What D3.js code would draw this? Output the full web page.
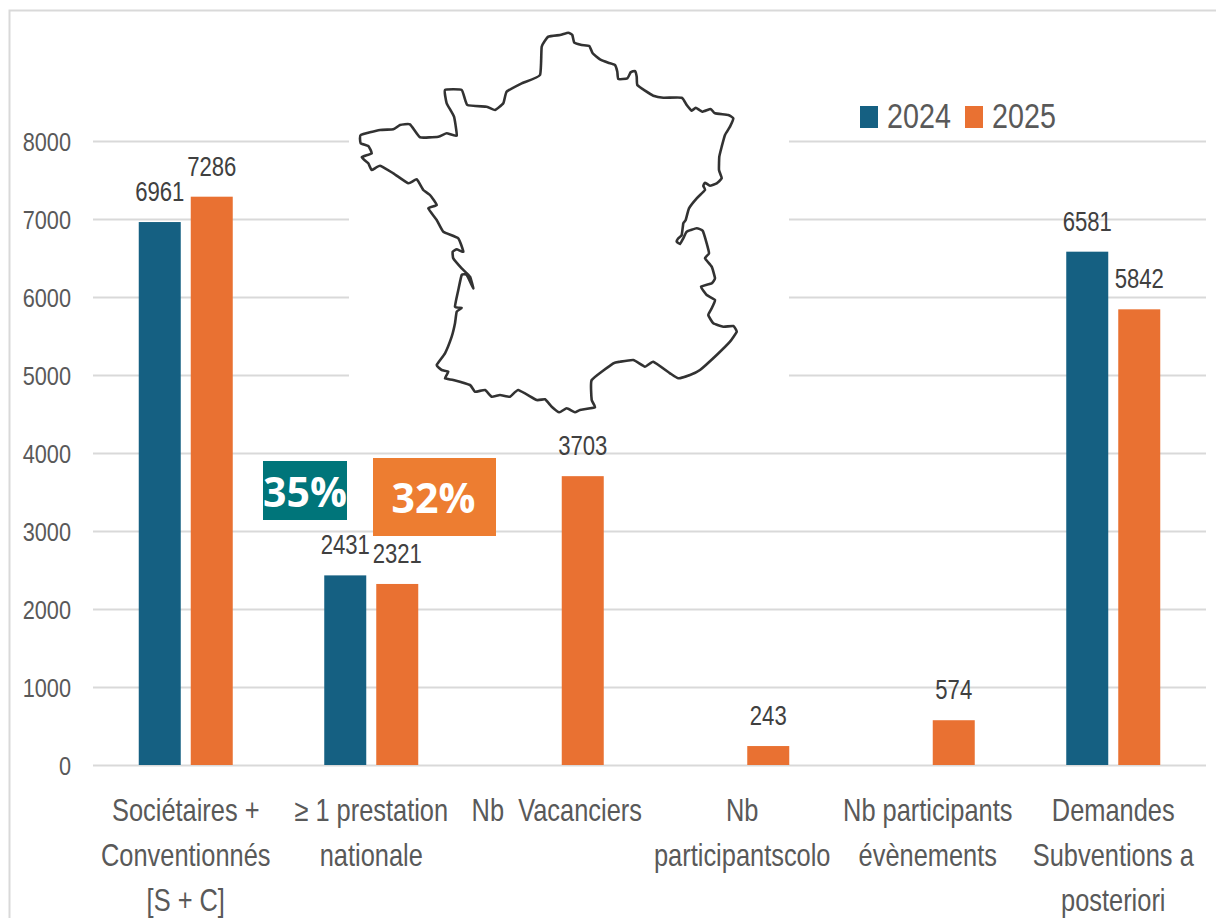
<!DOCTYPE html>
<html>
<head>
<meta charset="utf-8">
<script src="https://cdn.jsdelivr.net/npm/d3@7"></script>
<style>
  html, body { margin: 0; padding: 0; background: #fff; overflow: hidden; }
  text { font-family: "Liberation Sans", sans-serif; white-space: pre; }
</style>
</head>
<body>
<svg width="1216" height="918"></svg>
<script>
var years = ['2024', '2025'];
var categories = [
  ['Sociétaires +', 'Conventionnés', '[S + C]'],
  ['≥ 1 prestation', 'nationale'],
  ['Nb  Vacanciers'],
  ['Nb', 'participantscolo'],
  ['Nb participants', 'évènements'],
  ['Demandes', 'Subventions a', 'posteriori']
];
var values2024 = [6961, 2431, null, null, null, 6581];
var values2025 = [7286, 2321, 3703, 243, 574, 5842];
var yTicks = [0, 1000, 2000, 3000, 4000, 5000, 6000, 7000, 8000];
var shareLabels = ['35%', '32%'];

// outline of France, one unit = one pixel of the trace
var franceOutline = [
  [568.3,32.7],[572.3,35],[574.3,42.7],[581.7,45],[589.3,46],[592.7,53.3],[600,59.3],[608.3,62.7],[615,65],
  [617.3,71.7],[618.3,79],[627.3,78.3],[630.7,72.3],[635,71],[636.7,76.7],[637.3,85],[645,90.7],[653.3,95.7],
  [663.3,97.7],[681.7,97.7],[686.7,105],[691.7,110.7],[695.7,107.7],[702.3,111.7],[710.7,109],[715,113.3],
  [728.3,115],[733.3,118.3],[730,126.7],[725,135],[721.7,146.7],[719.3,156.7],[719,170],[721.7,178.3],
  [716.7,183.3],[710,185.7],[705,182.7],[703.3,186],[705,190],[696.7,198.3],[689,208.3],[685.7,220],
  [683.3,223.3],[681.7,235],[678.3,238.3],[676.7,241.7],[680,244],[683.3,238.3],[686.7,231.7],[696.7,228.3],
  [702.7,230.7],[706.7,243.3],[709,253.3],[705,258.3],[711.7,266.7],[715,278.3],[711.7,283.3],[701,286.7],
  [706.7,295],[715,300],[711.7,308.3],[708.3,315],[713.3,323.3],[723.3,326.7],[733.3,326],[736.7,331.7],
  [730,341.7],[716.7,355],[700,370],[690,375],[678.3,378.3],[670,373.3],[653.3,361.7],[645,366.7],[633.3,360],
  [620,361.7],[613.3,363.3],[591.7,380],[591.7,400],[595,407.3],[580,410],[575,412.3],[566.7,408.3],[559.3,412.3],
  [551.7,406.7],[545,399.3],[536.7,400],[518.3,390],[510,396.7],[500,395],[491.7,396.7],[485,390],[475,391.7],
  [470,385],[453.3,380],[445,378.3],[448.3,371.7],[441.7,370],[436.7,365],[445,353.3],[451.7,336.7],[455,323.3],
  [456.7,311.7],[461.7,308],[455,306.7],[458.3,290],[461.7,275],[466.7,275],[473.3,288.3],[470,276.7],[461.7,268.3],
  [453.3,258.3],[452.7,251.7],[456.7,249.3],[463.3,251.7],[458.3,238.3],[443.3,231.7],[436.7,220],[428.3,208.3],
  [436.7,205],[430,195],[423.3,190],[416.7,179.3],[408.3,183.3],[393.3,173.3],[380,165.7],[371.7,170],[368.3,163.3],
  [361.7,157.3],[371.7,153.3],[368.3,146],[360.7,143.3],[360.7,135],[380,130],[393.3,129.3],[400,125],[410,124.3],
  [420,137.3],[438.3,136.7],[446.7,133.3],[456.7,135.7],[454,116.7],[446.7,103.3],[445,90],[461.7,90],[467.3,105],
  [486.7,106.7],[495,110],[503.3,103.3],[506.7,91.7],[521.7,83.3],[540,75],[541.7,46.7],[548.3,36.7],[560,35]
];

var svg = d3.select('svg');
var colors = { '2024': '#156082', '2025': '#E97132' };
var gridColor = '#d9d9d9';
var left = 93, right = 1206, base = 765, top8000 = 141;
var squeeze = 0.82; // no narrow font installed, so the plain one gets squeezed sideways

var x = d3.scaleBand().domain(d3.range(categories.length)).range([left, right]);
var xSub = d3.scaleBand().domain(years)
  .range([x.bandwidth() / 2 - 47, x.bandwidth() / 2 + 47])
  .paddingInner(10 / 52);
var y = d3.scaleLinear().domain([0, 8000]).range([base, top8000]);
var mapX = d3.scaleLinear().domain([360, 737]).range([360, 737]);
var mapY = d3.scaleLinear().domain([33, 412]).range([33, 412]);

function narrow(px, py) {
  return 'translate(' + px + ',' + py + ') scale(' + squeeze + ',1)';
}

// frame, it runs off the picture on the right and at the bottom
svg.append('path')
  .attr('d', 'M9.5,918V10.5H1216')
  .attr('fill', 'none')
  .attr('stroke', gridColor)
  .attr('stroke-width', 2);

// Y axis with the gridlines
var yAxis = svg.append('g')
  .attr('transform', 'translate(' + left + ',0)')
  .call(d3.axisLeft(y).tickValues(yTicks).tickFormat(d3.format('d')).tickSize(-(right - left)));
yAxis.select('.domain').remove();
yAxis.selectAll('line').attr('stroke', gridColor).attr('stroke-width', 2);
yAxis.selectAll('text')
  .attr('x', 0)
  .attr('y', 0)
  .attr('dy', '0.36em')
  .attr('transform', narrow(-22, 0))
  .attr('fill', '#595959')
  .style('font-size', '26.5px');

// the map sits on a white block that hides the upper gridlines
svg.append('rect')
  .attr('x', 349).attr('y', 20).attr('width', 440).attr('height', 400)
  .attr('fill', '#fff');

var blur = svg.append('defs').append('filter').attr('id', 'soft');
blur.append('feGaussianBlur').attr('stdDeviation', 0.6);

svg.append('path')
  .datum(franceOutline)
  .attr('fill', 'none')
  .attr('stroke', '#333')
  .attr('stroke-width', 2.6)
  .attr('stroke-linejoin', 'round')
  .attr('filter', 'url(#soft)')
  .attr('d', d3.line()
    .x(function(d) { return mapX(d[0]); })
    .y(function(d) { return mapY(d[1]); })
    .curve(d3.curveCardinalClosed.tension(0.6)));

// Bars and their value labels
var series = [
  { year: '2024', values: values2024 },
  { year: '2025', values: values2025 }
];
series.forEach(function(s) {
  var rows = s.values
    .map(function(v, i) { return { i: i, v: v }; })
    .filter(function(d) { return d.v !== null; });

  svg.selectAll('rect.bar' + s.year)
    .data(rows)
    .enter().append('rect')
    .attr('class', 'bar' + s.year)
    .attr('x', function(d) { return x(d.i) + xSub(s.year); })
    .attr('y', function(d) { return y(d.v); })
    .attr('width', xSub.bandwidth())
    .attr('height', function(d) { return y(0) - y(d.v); })
    .attr('fill', colors[s.year]);

  svg.selectAll('text.val' + s.year)
    .data(rows)
    .enter().append('text')
    .attr('class', 'val' + s.year)
    .attr('transform', function(d) {
      return narrow(x(d.i) + xSub(s.year) + xSub.bandwidth() / 2, y(d.v) - 21);
    })
    .attr('text-anchor', 'middle')
    .attr('fill', '#404040')
    .style('font-size', '27px')
    .text(function(d) { return d.v; });
});

// Category labels
var catLabels = svg.selectAll('text.cat')
  .data(categories)
  .enter().append('text')
  .attr('class', 'cat')
  .attr('transform', function(d, i) { return narrow(x(i) + x.bandwidth() / 2, 0); })
  .attr('text-anchor', 'middle')
  .attr('fill', '#595959')
  .style('font-size', '31px');
catLabels.selectAll('tspan')
  .data(function(d) { return d; })
  .enter().append('tspan')
  .attr('x', 0)
  .attr('y', function(d, j) { return 821 + j * 45; })
  .text(function(d) { return d; });

// Legend
var legendX = [860, 965];
years.forEach(function(year, i) {
  svg.append('rect')
    .attr('x', legendX[i]).attr('y', 106).attr('width', 18).attr('height', 22)
    .attr('fill', colors[year]);
  svg.append('text')
    .attr('transform', narrow(legendX[i] + 27, 128))
    .attr('fill', '#595959')
    .style('font-size', '35px')
    .text(year);
});

// Share boxes above the second group
var shareBoxes = [
  { x: 263, y: 461, w: 84, h: 59, fill: '#00757A', base: 507 },
  { x: 373, y: 458, w: 123, h: 78, fill: '#ED7D31', base: 513 }
];
shareBoxes.forEach(function(b, i) {
  svg.append('rect')
    .attr('x', b.x).attr('y', b.y).attr('width', b.w).attr('height', b.h)
    .attr('fill', b.fill);
  svg.append('text')
    .attr('x', b.x + b.w / 2 + (i ? -1 : 0)).attr('y', b.base)
    .attr('text-anchor', 'middle')
    .attr('fill', '#fff')
    .style('font-family', '"Open Sans", sans-serif')
    .style('font-weight', 700)
    .style('font-size', '41px')
    .text(shareLabels[i]);
});
</script>
</body>
</html>
